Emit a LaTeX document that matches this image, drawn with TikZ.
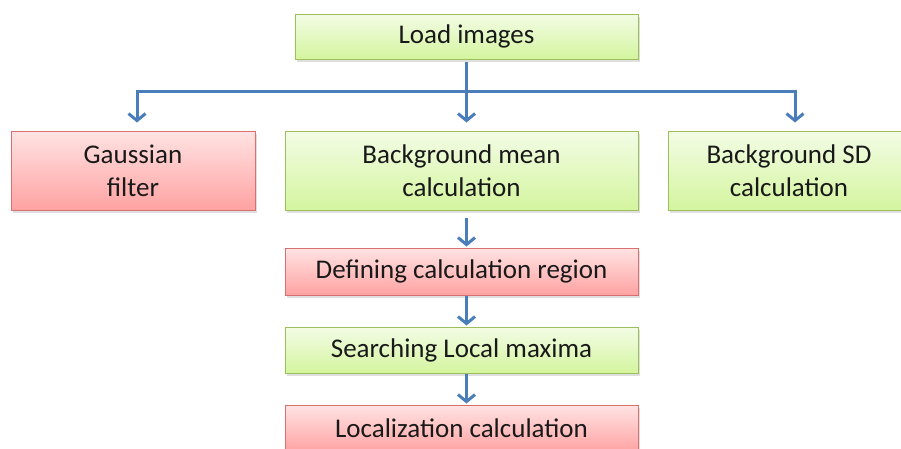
\documentclass[tikz,border=0pt]{standalone}
\usepackage{fontspec}
\setmainfont{Carlito}
\usetikzlibrary{arrows.meta,shadows,calc}
\definecolor{flowblue}{HTML}{4A7EBB}
\definecolor{gtop}{HTML}{F3FCE6}
\definecolor{gbot}{HTML}{D4F59E}
\definecolor{gline}{HTML}{9CBF5C}
\definecolor{rtop}{HTML}{FFE3E3}
\definecolor{rbot}{HTML}{FFA2A2}
\definecolor{rline}{HTML}{D7706E}
\tikzset{
  box/.style={draw, line width=1pt, inner sep=0pt, align=center,
    font=\fontsize{27}{33}\selectfont, text=black!90,
    drop shadow={opacity=0.25, shadow xshift=1.5pt, shadow yshift=-2.5pt}},
  gbox/.style={box, draw=gline, top color=gtop, bottom color=gbot},
  rbox/.style={box, draw=rline, top color=rtop, bottom color=rbot},
  arr/.style={draw=flowblue, line width=3pt, -{Straight Barb[length=7pt,width=17pt,line width=3pt]}},
}
\begin{document}
\begin{tikzpicture}[x=1pt,y=-1pt]
\useasboundingbox (0,0) rectangle (901,448);
\clip (0,0) rectangle (901,448);
\node[gbox, minimum width=343pt, minimum height=45pt] (load) at (466.5,36.5) {Load images};
\node[rbox, minimum width=244pt, minimum height=79pt] (gauss) at (133,170.5) {Gaussian\\filter};
\node[gbox, minimum width=353pt, minimum height=79pt] (mean) at (461.5,170.5) {Background mean\\calculation};
\node[gbox, minimum width=242pt, minimum height=79pt] (sd) at (789,170.5) {Background SD\\calculation};
\node[rbox, minimum width=353pt, minimum height=47pt] (def) at (461.5,271.5) {Defining calculation region};
\node[gbox, minimum width=353pt, minimum height=46pt] (search) at (461.5,350) {Searching Local maxima};
\node[rbox, minimum width=353pt, minimum height=47pt] (loc) at (461.5,428.5) {Localization calculation};
\coordinate (hl) at (137,91);
\coordinate (hr) at (795,91);
\draw[arr, shorten <=2pt, shorten >=8pt] (load.south) -- (mean.north -| load.south);
\draw[arr, shorten >=8pt] (hl) -- (hr) -- (sd.north -| hr);
\draw[arr, shorten >=8pt] ($(hl)+(2,0)$) -- (hl) -- (gauss.north -| hl);
\draw[arr, shorten <=7pt, shorten >=1pt] (mean.south -| load.south) -- (def.north -| load.south);
\draw[arr, shorten >=1pt] (def.south -| load.south) -- (search.north -| load.south);
\draw[arr, shorten >=1pt] (search.south -| load.south) -- (loc.north -| load.south);
\end{tikzpicture}
\end{document}
